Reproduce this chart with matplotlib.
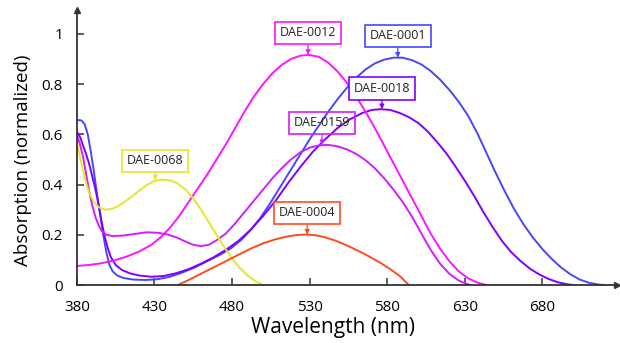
import numpy as np
import matplotlib
matplotlib.use("Agg")
import matplotlib.pyplot as plt

plt.rcParams['font.family'] = ['Open Sans', 'DejaVu Sans']

# absorption spectra (wavelength nm, normalized absorption)
wl_0001 = [380, 383, 385, 387, 389, 391, 393, 395, 397, 399, 401, 403, 406, 410, 416, 424, 432, 440,
           448, 456, 464, 472, 479, 486, 492, 498, 504, 510, 517, 524, 530, 536, 542, 548, 554, 560,
           566, 572, 578, 584, 590, 596, 602, 608, 614, 620, 626, 632, 638, 644, 650, 656, 662, 668,
           674, 680, 686, 692, 698, 704, 710, 716, 720]
ab_0001 = [0.657, 0.655, 0.64, 0.60, 0.53, 0.45, 0.36, 0.28, 0.20, 0.13, 0.08, 0.055, 0.038, 0.028,
           0.022, 0.02, 0.023, 0.033, 0.05, 0.07, 0.095, 0.12, 0.145, 0.18, 0.22, 0.265, 0.32, 0.38,
           0.45, 0.52, 0.58, 0.635, 0.69, 0.74, 0.785, 0.825, 0.858, 0.882, 0.897, 0.905, 0.905,
           0.895, 0.878, 0.852, 0.818, 0.777, 0.73, 0.675, 0.605, 0.525, 0.445, 0.37, 0.3, 0.24,
           0.188, 0.143, 0.104, 0.07, 0.043, 0.022, 0.009, 0.002, 0.0]

wl_0018 = [380, 382, 384, 386, 388, 390, 392, 394, 396, 398, 400, 402, 405, 409, 414, 420, 428, 436,
           444, 452, 460, 468, 476, 484, 492, 500, 508, 516, 524, 532, 540, 548, 556, 564, 570, 576,
           582, 588, 594, 600, 606, 612, 618, 624, 630, 636, 642, 648, 654, 660, 666, 672, 678, 684,
           690, 696, 700]
ab_0018 = [0.61, 0.59, 0.555, 0.52, 0.48, 0.43, 0.38, 0.32, 0.25, 0.19, 0.145, 0.11, 0.08, 0.06,
           0.047, 0.038, 0.033, 0.036, 0.047, 0.063, 0.085, 0.11, 0.14, 0.175, 0.22, 0.275, 0.335,
           0.405, 0.47, 0.53, 0.58, 0.625, 0.66, 0.685, 0.697, 0.70, 0.697, 0.685, 0.668, 0.645,
           0.612, 0.57, 0.525, 0.472, 0.415, 0.355, 0.29, 0.23, 0.175, 0.13, 0.095, 0.065, 0.042,
           0.024, 0.011, 0.003, 0.0]

wl_0012 = [380, 388, 396, 404, 412, 420, 428, 434, 440, 446, 452, 458, 464, 470, 476, 482, 488, 494,
           500, 506, 512, 518, 524, 530, 536, 542, 548, 554, 560, 566, 572, 578, 584, 590, 596, 602,
           608, 614, 620, 626, 632, 638, 644]
ab_0012 = [0.076, 0.08, 0.087, 0.098, 0.113, 0.133, 0.16, 0.19, 0.228, 0.275, 0.33, 0.385, 0.44,
           0.5, 0.56, 0.625, 0.69, 0.75, 0.8, 0.843, 0.876, 0.9, 0.913, 0.916, 0.908, 0.885, 0.85,
           0.805, 0.75, 0.69, 0.625, 0.555, 0.485, 0.415, 0.345, 0.275, 0.205, 0.145, 0.095, 0.055,
           0.027, 0.01, 0.0]

wl_0159 = [380, 382, 384, 386, 388, 390, 392, 394, 396, 399, 403, 410, 418, 425, 432, 438, 444, 450,
           455, 460, 465, 470, 476, 482, 488, 494, 500, 506, 512, 518, 524, 530, 536, 542, 548, 554,
           560, 566, 572, 578, 584, 590, 596, 602, 608, 614, 620, 626, 632, 634]
ab_0159 = [0.60, 0.56, 0.51, 0.44, 0.37, 0.315, 0.27, 0.238, 0.215, 0.2, 0.195, 0.197, 0.204, 0.21,
           0.208, 0.202, 0.19, 0.173, 0.16, 0.155, 0.16, 0.178, 0.205, 0.245, 0.29, 0.335, 0.38,
           0.425, 0.465, 0.5, 0.528, 0.547, 0.556, 0.558, 0.552, 0.54, 0.522, 0.497, 0.465, 0.425,
           0.38, 0.33, 0.272, 0.205, 0.14, 0.085, 0.045, 0.018, 0.003, 0.0]

wl_0068 = [380, 382, 384, 386, 388, 391, 394, 398, 402, 406, 410, 415, 420, 425, 430, 435, 440, 445,
           450, 455, 460, 465, 470, 475, 480, 485, 490, 495, 500]
ab_0068 = [0.57, 0.51, 0.455, 0.405, 0.365, 0.33, 0.31, 0.3, 0.302, 0.312, 0.328, 0.35, 0.375,
           0.398, 0.414, 0.42, 0.417, 0.404, 0.38, 0.345, 0.3, 0.25, 0.2, 0.15, 0.105, 0.068, 0.038,
           0.015, 0.0]

wl_0004 = [445, 452, 460, 468, 476, 484, 492, 500, 508, 516, 522, 528, 534, 540, 546, 552, 558, 564,
           570, 576, 582, 588, 594]
ab_0004 = [0.0, 0.02, 0.045, 0.07, 0.095, 0.12, 0.145, 0.166, 0.182, 0.194, 0.199, 0.201, 0.198,
           0.19, 0.178, 0.163, 0.146, 0.128, 0.108, 0.087, 0.063, 0.036, 0.0]

# label name, colour, label centre, arrow tip on the peak
names = ['DAE-0001', 'DAE-0018', 'DAE-0012', 'DAE-0159', 'DAE-0068', 'DAE-0004']
colors = ['#4646ff', '#8000ff', '#ff14ff', '#d21eff', '#e6e628', '#ff4b1e']
label_xy = [(586.8, 0.992), (576.6, 0.782), (529, 1.004), (538, 0.645), (430.6, 0.494), (528.4, 0.287)]
peak_ab = [0.905, 0.70, 0.916, 0.557, 0.416, 0.201]
filled = [True, True, True, False, True, True]

x_ticks = [380, 430, 480, 530, 580, 630, 680]
y_ticks = [0, 0.2, 0.4, 0.6, 0.8, 1]

fig = plt.figure(figsize=(6.2, 3.43), dpi=100)
ax = fig.add_axes([0.124, 0.169, 0.871, 0.802])

series = [(wl_0001, ab_0001), (wl_0018, ab_0018), (wl_0012, ab_0012),
          (wl_0159, ab_0159), (wl_0068, ab_0068), (wl_0004, ab_0004)]
for (w, a), c in zip(series, colors):
    ax.plot(w, a, color=c, lw=1.4, solid_capstyle='round', solid_joinstyle='round')

for n, c, txt, pk, f in zip(names, colors, label_xy, peak_ab, filled):
    ax.annotate(n, xy=(txt[0], pk), xytext=txt, ha='center', va='center', fontsize=9, color='#222222',
                bbox=dict(boxstyle='square,pad=0.38', fc='white' if f else 'none', ec=c, lw=1.2),
                arrowprops=dict(arrowstyle='-|>,head_length=0.3,head_width=0.15', color=c, lw=0.9,
                                shrinkA=0, shrinkB=0),
                zorder=5)

ax.set_xlim(380, 728)
ax.set_ylim(0, 1.095)
ax.set_xticks(x_ticks)
ax.set_xticklabels([str(t) for t in x_ticks])
ax.set_yticks(y_ticks)
ax.set_yticklabels(['0', '0.2', '0.4', '0.6', '0.8', '1'])
ax.tick_params(direction='in', length=5, width=1.1, color='#333333', labelsize=11)
ax.tick_params(axis='x', pad=11)
ax.tick_params(axis='y', pad=10)

for s in ['top', 'right']:
    ax.spines[s].set_visible(False)
for s in ['left', 'bottom']:
    ax.spines[s].set_linewidth(1.3)
    ax.spines[s].set_color('#333333')
# arrow heads at the end of the axes
ax.plot(1, 0, '>', color='#333333', ms=4, transform=ax.transAxes, clip_on=False)
ax.plot(0, 1, '^', color='#333333', ms=4, transform=ax.transAxes, clip_on=False)

ax.set_xlabel('Wavelength (nm)', fontsize=15)
ax.xaxis.set_label_coords(0.474, -0.115)
ax.set_ylabel('Absorption (normalized)', fontsize=13.5)
ax.yaxis.set_label_coords(-0.083, 0.455)

fig.savefig('out.png', dpi=100)
